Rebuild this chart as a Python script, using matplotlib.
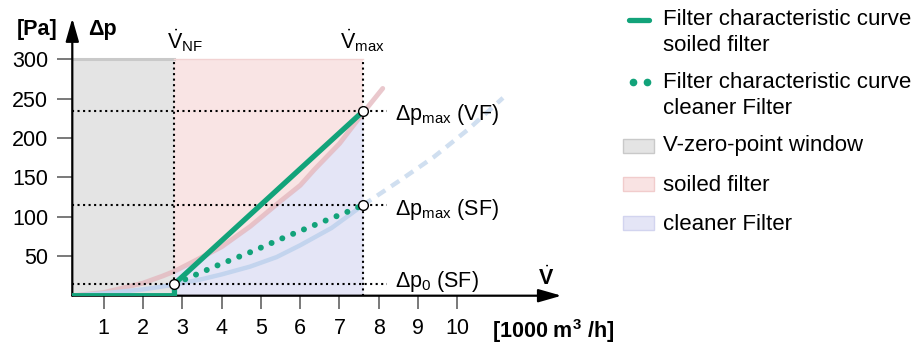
import numpy as np
import matplotlib
matplotlib.use("Agg")
import matplotlib.pyplot as plt
from matplotlib.lines import Line2D
from matplotlib.patches import Rectangle

plt.rcParams['font.family'] = ['Liberation Sans', 'DejaVu Sans']
plt.rcParams['mathtext.fontset'] = 'custom'
plt.rcParams['mathtext.rm'] = 'Liberation Sans'
plt.rcParams['mathtext.it'] = 'Liberation Sans'
plt.rcParams['mathtext.bf'] = 'Liberation Sans:bold'

# key operating points (flow in 1000 m3/h, pressure in Pa)
flow_start = 0.2
flow_nf = 2.8
flow_max = 7.6
window_top = 300
dp0_sf = 15
dpmax_sf = 115
dpmax_vf = 234

# faded characteristic of the soiled filter (pink)
soiled_x = [0.2, 1.0, 2.0, 2.5, 2.8, 3.27, 4.0, 4.73, 5.5, 6.0, 6.36, 7.0, 7.6, 8.1]
soiled_y = [0, 4, 16, 25, 31, 43, 62, 88, 120, 140, 160, 193, 232, 263]

# faded characteristic of the cleaner filter (blue) + its dashed extension
clean_x = [0.2, 1.0, 2.0, 2.8, 3.5, 4.0, 4.73, 5.4, 6.0, 6.8, 7.6]
clean_y = [0, 3, 8, 14, 21, 27, 37, 49, 64, 86, 115]
clean_ext_x = [7.6, 8.5, 9.4, 10.3, 11.16]
clean_ext_y = [115, 145, 176, 212, 251]

# green filter characteristic curves
green_solid_x = [0.2, 2.8, 2.8, 7.6]
green_solid_y = [0, 0, 15, 234]
green_dot_x = [2.8, 3.92, 4.77, 5.6, 6.43, 7.28, 7.6]
green_dot_y = [15, 39, 56, 74, 91, 108, 115]

xticks = list(range(1, 11))
yticks = [50, 100, 150, 200, 250, 300]

green = '#12a37a'
W, H = 921, 347

fig = plt.figure(figsize=(W / 100, H / 100), dpi=100)
ax = fig.add_axes([72.3 / W, 51.3 / H, 489.2 / W, 277.4 / H])
ax.set_xlim(flow_start, 12.65)
ax.set_ylim(0, 352)
for s in ax.spines.values():
    s.set_visible(False)

# shaded windows
ax.fill_between([flow_start, flow_nf], 0, window_top, color='#e4e4e4', lw=0, zorder=0)
ax.plot([flow_start, flow_nf], [window_top, window_top], color='#c9c9c9', lw=2.2, zorder=0.5)
ax.fill_between([flow_nf, flow_max], 0, window_top, color='#f9e4e4', lw=0, zorder=0)
ax.plot([flow_nf, flow_max], [window_top, window_top], color='#f2d2d2', lw=1, zorder=0.5)
sx = np.array(soiled_x)
ax.fill_between(sx, 0, soiled_y, where=(sx >= flow_nf) & (sx <= flow_max),
                color='#e4e5f6', lw=0, zorder=0.2)

# faded curves
ax.plot(soiled_x, soiled_y, color='#e3b6bd', lw=3.5, alpha=0.75, solid_capstyle='round', zorder=1)
ax.plot(clean_x, clean_y, color='#c3d4ee', lw=3.2, solid_capstyle='round', zorder=1)
ax.plot(clean_ext_x, clean_ext_y, color='#d0dff0', lw=3.2, ls=(0, (2.2, 1.6)), zorder=1)

# dotted guide lines
ax.vlines([flow_nf, flow_max], 0, window_top, colors='black', linestyles=':', lw=1.5, zorder=2)
ax.hlines([dp0_sf, dpmax_sf, dpmax_vf], flow_start, 8.2, colors='black', linestyles=':', lw=1.5, zorder=2)

# green curves
ax.plot(green_solid_x, green_solid_y, color=green, lw=3.8, zorder=3, solid_joinstyle='miter')
ax.plot(green_dot_x, green_dot_y, color=green, lw=4.3, ls=(0, (0.01, 1.95)),
        dash_capstyle='round', zorder=3)

ax.plot([flow_nf, flow_max, flow_max], [dp0_sf, dpmax_sf, dpmax_vf], 'o', ms=7,
        mfc='white', mec='black', mew=1, zorder=4)

# axes with arrows
arrow = dict(arrowstyle='-|>,head_length=0.7,head_width=0.2', color='black', lw=1.6,
             mutation_scale=20, shrinkA=0, shrinkB=0)
ax.annotate('', xy=(12.65, 0), xytext=(flow_start, 0), arrowprops=arrow, annotation_clip=False, zorder=2.5)
ax.annotate('', xy=(flow_start, 352), xytext=(flow_start, 0), arrowprops=arrow, annotation_clip=False, zorder=2.5)

ax.set_xticks(xticks)
ax.set_yticks(yticks)
ax.tick_params(axis='y', direction='out', length=10.8, width=1.1, color='#555555', pad=6.5, labelsize=15.5)
ax.tick_params(axis='x', direction='out', length=9.5, width=1.1, color='#555555', pad=6.5, labelsize=15.5)

fs = 15.5
ax.text(-0.70, 330.8, '[Pa]', fontsize=fs, fontweight='bold', ha='center', va='baseline', clip_on=False)
ax.text(0.60, 330.8, 'Δp', fontsize=fs, fontweight='bold', ha='left', va='baseline', clip_on=False)
ax.text(2.60, 314, r'$\dot{V}_{\mathrm{NF}}$', fontsize=fs, ha='left', va='baseline')
ax.text(7.01, 314, r'$\dot{V}_{\mathrm{max}}$', fontsize=fs, ha='left', va='baseline')
ax.text(8.41, 223, r'Δp$_{\mathrm{max}}$ (VF)', fontsize=fs, ha='left', va='baseline')
ax.text(8.41, 102.4, r'Δp$_{\mathrm{max}}$ (SF)', fontsize=fs, ha='left', va='baseline')
ax.text(8.41, 11.4, r'Δp$_{\mathrm{0}}$ (SF)', fontsize=fs, ha='left', va='baseline')
ax.text(12.05, 13.6, r'$\dot{\mathbf{V}}$', fontsize=fs, ha='left', va='baseline', clip_on=False)
ax.text(10.87, -53.7, r'[1000 m$^{\mathbf{3}}$ /h]', fontsize=fs, fontweight='bold',
        ha='left', va='baseline', clip_on=False)


# legend, drawn by hand so handles line up with the first text line
def fx(px):
    return px / W


def fy(py):
    return 1 - py / H


lfs = 16
fig.add_artist(Line2D([fx(629), fx(649)], [fy(20), fy(20)], color=green, lw=3.8,
                      solid_capstyle='round'))
fig.add_artist(Line2D([fx(633), fx(647)], [fy(82), fy(82)], ls='none', marker='o', ms=4.5,
                      color=green))
legend_patches = [(139, '#e4e4e4', '#c9c9c9'), (177, '#f9e3e3', '#f1cccc'), (216, '#e4e5f6', '#d2d4ef')]
for top, fc, ec in legend_patches:
    fig.add_artist(Rectangle((fx(623), fy(top + 14)), 31 / W, 14 / H, facecolor=fc,
                             edgecolor=ec, lw=1))
legend_lines = [(17, 'Filter characteristic curve'), (43, 'soiled filter'),
                (80, 'Filter characteristic curve'), (106, 'cleaner Filter'),
                (143, 'V-zero-point window'), (183, 'soiled filter'), (222, 'cleaner Filter')]
for yc, txt in legend_lines:
    fig.text(fx(663), fy(yc + 8), txt, fontsize=lfs, va='baseline', ha='left')

fig.savefig('out.png', dpi=100)
